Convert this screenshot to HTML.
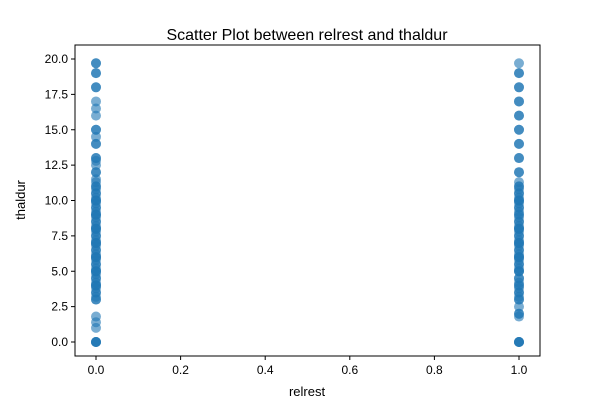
<!DOCTYPE html>
<html><head><meta charset="utf-8"><style>
body{margin:0;background:#fff;font-family:"Liberation Sans","DejaVu Sans",sans-serif;}
</style></head><body>
<svg id="chart" width="600" height="400" xmlns="http://www.w3.org/2000/svg">
<rect width="600" height="400" fill="#fff"/>
<text x="307" y="40" text-anchor="middle" font-size="16">Scatter Plot between relrest and thaldur</text>
<g id="points"></g>
<g id="axes"></g>
<text x="307" y="396" text-anchor="middle" font-size="13">relrest</text>
<text x="25" y="200" text-anchor="middle" font-size="13" transform="rotate(-90 25 200)">thaldur</text>
</svg>
<script>
const xs0 = [0,0,0,0,1.0,1.4,1.8,3.0,3.0,3.2,3.5,3.5,3.8,4.0,4.0,4.0,4.2,4.5,4.5,4.8,5.0,5.0,5.0,5.2,5.5,5.5,5.8,6.0,6.0,6.0,6.2,6.5,6.5,6.8,7.0,7.0,7.0,7.2,7.5,7.5,7.8,8.0,8.0,8.0,8.2,8.5,8.5,8.8,9.0,9.0,9.0,9.2,9.5,9.5,9.8,10.0,10.0,10.0,10.2,10.5,10.5,10.8,11.0,11.0,11.3,11.5,12.0,12.0,12.5,12.8,13.0,13.0,14.0,14.0,14.5,15.0,15.0,16.0,16.5,17.0,18.0,18.0,19.0,19.0,19.7,19.7];
const xs1 = [0,0,0,0,1.8,2.0,2.0,2.5,3.0,3.0,3.2,3.5,3.5,3.8,4.0,4.0,4.2,4.5,4.5,5.0,5.0,5.0,5.2,5.5,5.5,5.8,6.0,6.0,6.0,6.2,6.5,6.5,6.8,7.0,7.0,7.0,7.2,7.5,7.5,7.8,8.0,8.0,8.0,8.2,8.5,8.5,8.8,9.0,9.0,9.2,9.5,9.5,9.8,10.0,10.0,10.0,10.2,10.5,10.5,10.8,11.0,11.0,11.3,12.0,12.0,13.0,13.0,14.0,14.0,15.0,15.0,16.0,16.0,17.0,17.0,18.0,18.0,19.0,19.0,19.7];
const xTicks = [0,0.2,0.4,0.6,0.8,1.0];
const yTicks = [0,2.5,5,7.5,10,12.5,15,17.5,20];
const L=75,R=540,T=45,B=356;
const xS=v=>96+v*(519-96);
const yS=v=>342-v*(342-59)/20;
const NS="http://www.w3.org/2000/svg";
const pg=document.getElementById('points');
function pt(x,y){const c=document.createElementNS(NS,'circle');
c.setAttribute('cx',xS(x));c.setAttribute('cy',yS(y));c.setAttribute('r',5);
c.setAttribute('fill','#1f77b4');c.setAttribute('fill-opacity','0.6');


pg.appendChild(c);}
xs0.forEach(v=>pt(0,v));xs1.forEach(v=>pt(1,v));
const ag=document.getElementById('axes');
let h=`<rect x="${L}" y="${T}" width="${R-L}" height="${B-T}" fill="none" stroke="#000" stroke-width="1"/>`;
xTicks.forEach(t=>{const x=xS(t);h+=`<line x1="${x}" x2="${x}" y1="${B}" y2="${B+4}" stroke="#000"/><text x="${x}" y="${B+18}" font-size="12" text-anchor="middle">${t.toFixed(1)}</text>`;});
yTicks.forEach(t=>{const y=yS(t);h+=`<line x1="${L-4}" x2="${L}" y1="${y}" y2="${y}" stroke="#000"/><text x="${L-7}" y="${y+4}" font-size="12" text-anchor="end">${t.toFixed(1)}</text>`;});
ag.innerHTML=h;
</script>
</body></html>
